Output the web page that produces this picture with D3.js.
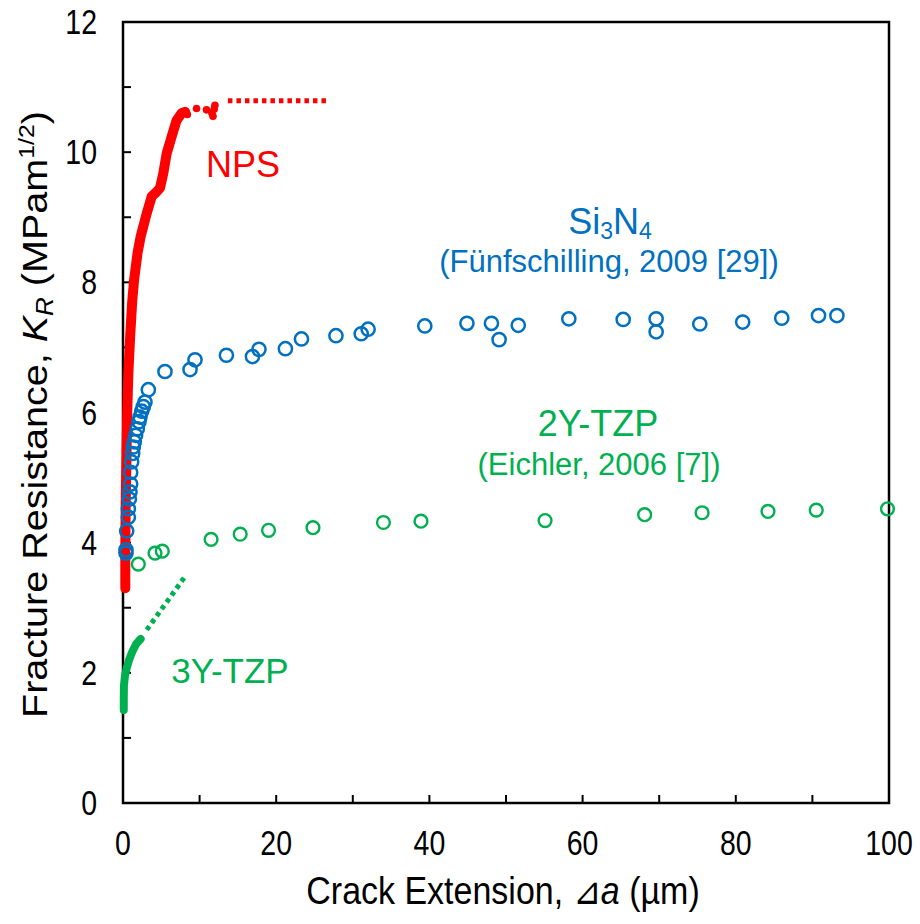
<!DOCTYPE html>
<html lang="en">
<head>
<meta charset="UTF-8">
<title>Fracture Resistance vs Crack Extension</title>
<script src="https://d3js.org/d3.v7.min.js"></script>
<style>
  body { margin: 0; background: #fff; }
  svg text { font-family: "Liberation Sans", Arial, sans-serif; }
</style>
</head>
<body>
<div id="chart"></div>
<script>
// --- data (crack extension in µm, K_R in MPa·m^1/2) ---
const npsCurve = [[0.3,3.3],[0.3,3.9],[0.35,4.6],[0.45,5.3],[0.55,6.0],[0.7,6.6],[0.95,7.2],[1.2,7.7],
  [1.45,8.04],[1.9,8.45],[2.3,8.7],[3.1,9.06],[3.75,9.32],[4.3,9.38],[4.83,9.45],[5.27,9.68],
  [5.7,9.98],[6.35,10.24],[7.0,10.49],[7.66,10.6],[8.1,10.62]];
const npsTail = [[8.4,10.58],[9.6,10.67],[10.9,10.65],[11.6,10.6],[11.75,10.55],[12.0,10.72],[11.9,10.66]];
const npsTrend = [[13.7,10.79],[27.0,10.79]];

const tzp3Curve = [[0.1,1.43],[0.1,1.6],[0.12,1.8],[0.25,1.95],[0.5,2.08],[0.8,2.2],[1.2,2.32],[1.7,2.44],[2.3,2.52]];
const tzp3Trend = [[3.1,2.66],[8.1,3.48]];

const si3n4 = [[0.39,3.84],[0.39,3.89],[0.48,4.18],[0.7,4.39],[0.7,4.52],[0.83,4.67],[0.91,4.78],[1.0,4.9],
  [1.0,5.08],[1.13,5.24],[1.26,5.37],[1.35,5.47],[1.48,5.55],[1.65,5.65],[1.87,5.75],[2.09,5.86],
  [2.22,5.93],[2.44,6.02],[2.65,6.09],[2.87,6.16],[3.31,6.35],[5.48,6.63],[8.75,6.66],[9.4,6.81],
  [13.5,6.88],[16.9,6.86],[17.75,6.97],[21.2,6.98],[23.3,7.13],[27.8,7.18],[31.1,7.21],[32.0,7.28],
  [39.4,7.33],[44.9,7.37],[48.1,7.37],[49.1,7.12],[51.6,7.34],[58.2,7.44],[65.3,7.43],[69.6,7.44],
  [69.6,7.24],[75.3,7.36],[80.9,7.39],[86.0,7.45],[90.8,7.49],[93.2,7.49]];

const tzp2 = [[2.0,3.67],[4.18,3.84],[5.13,3.87],[11.5,4.05],[15.3,4.13],[19.0,4.19],[24.8,4.23],
  [34.0,4.31],[38.9,4.33],[55.1,4.34],[68.1,4.43],[75.6,4.46],[84.2,4.48],[90.5,4.50],[99.8,4.52]];

const xTicks = [0, 10, 20, 30, 40, 50, 60, 70, 80, 90, 100];
const xLabels = [0, 20, 40, 60, 80, 100];
const yTicks = [0, 1, 2, 3, 4, 5, 6, 7, 8, 9, 10, 11, 12];
const yLabels = [0, 2, 4, 6, 8, 10, 12];

const RED = "#FF0000", BLUE = "#0070C0", GREEN = "#00B050";

// --- layout ---
const W = 920, H = 924;
const margin = { top: 22, right: 31, bottom: 121, left: 123 };
const width = W - margin.left - margin.right;
const height = H - margin.top - margin.bottom;

const svg = d3.select("#chart").append("svg")
  .attr("width", W).attr("height", H);

const g = svg.append("g")
  .attr("transform", `translate(${margin.left},${margin.top})`);

const x = d3.scaleLinear().domain([0, 100]).range([0, width]);
const y = d3.scaleLinear().domain([0, 12]).range([height, 0]);

// frame
g.append("rect")
  .attr("width", width).attr("height", height)
  .attr("fill", "none").attr("stroke", "#000").attr("stroke-width", 2.5);

// inward ticks
g.selectAll(".xt").data(xTicks).enter().append("line")
  .attr("x1", d => x(d)).attr("x2", d => x(d))
  .attr("y1", height).attr("y2", height - 8)
  .attr("stroke", "#000").attr("stroke-width", 2);
g.selectAll(".yt").data(yTicks).enter().append("line")
  .attr("x1", 0).attr("x2", 8)
  .attr("y1", d => y(d)).attr("y2", d => y(d))
  .attr("stroke", "#000").attr("stroke-width", 2);

// tick labels (the source figure is slightly stretched vertically)
g.selectAll(".xl").data(xLabels).enter().append("text")
  .attr("transform", d => `translate(${x(d)},${height + 52}) scale(0.95,1.15)`)
  .attr("text-anchor", "middle").attr("font-size", 30).attr("fill", "#000")
  .text(d => d);
g.selectAll(".yl").data(yLabels).enter().append("text")
  .attr("transform", d => `translate(-26,${y(d) + 12}) scale(0.95,1.15)`)
  .attr("text-anchor", "end").attr("font-size", 30).attr("fill", "#000")
  .text(d => d);

// axis titles
const xt = svg.append("text")
  .attr("transform", `translate(${margin.left + width / 2 - 3},904) scale(1,1.12)`)
  .attr("text-anchor", "middle").attr("font-size", 34).attr("fill", "#000");
xt.append("tspan").text("Crack Extension, ⊿");
xt.append("tspan").attr("font-style", "italic").text("a");
xt.append("tspan").text(" (µm)");

const yt = svg.append("text")
  .attr("transform", `translate(47,${margin.top + height / 2 + 2}) rotate(-90) scale(1.13,1)`)
  .attr("text-anchor", "middle").attr("font-size", 35).attr("fill", "#000");
yt.append("tspan").text("Fracture Resistance, ");
yt.append("tspan").attr("font-style", "italic").text("K");
yt.append("tspan").attr("font-style", "italic").attr("font-size", 23).attr("dy", 6).text("R");
yt.append("tspan").attr("dy", -6).text(" (MPam");
yt.append("tspan").attr("font-size", 22).attr("dy", -13).text("1/2");
yt.append("tspan").attr("dy", 13).text(")");

// --- data layers ---
const line = d3.line().x(d => x(d[0])).y(d => y(d[1]));

// NPS measured curve (dense points -> thick band)
g.append("path").datum(npsCurve).attr("d", line)
  .attr("fill", "none").attr("stroke", RED).attr("stroke-width", 10)
  .attr("stroke-linejoin", "round").attr("stroke-linecap", "round");
g.selectAll(".npsTail").data(npsTail).enter().append("circle")
  .attr("cx", d => x(d[0])).attr("cy", d => y(d[1])).attr("r", 3.8).attr("fill", RED);
g.append("path").datum(npsTrend).attr("d", line)
  .attr("fill", "none").attr("stroke", RED).attr("stroke-width", 5)
  .attr("stroke-dasharray", "4.5,4");

// Si3N4 open circles
g.selectAll(".si").data(si3n4).enter().append("circle")
  .attr("cx", d => x(d[0])).attr("cy", d => y(d[1])).attr("r", 6.6)
  .attr("fill", "none").attr("stroke", BLUE).attr("stroke-width", 2.5);

// 2Y-TZP open circles
g.selectAll(".tz2").data(tzp2).enter().append("circle")
  .attr("cx", d => x(d[0])).attr("cy", d => y(d[1])).attr("r", 6.4)
  .attr("fill", "none").attr("stroke", GREEN).attr("stroke-width", 2.4);

// 3Y-TZP curve + dotted extension
g.append("path").datum(tzp3Curve).attr("d", line)
  .attr("fill", "none").attr("stroke", GREEN).attr("stroke-width", 8)
  .attr("stroke-linejoin", "round").attr("stroke-linecap", "round");
g.append("path").datum(tzp3Trend).attr("d", line)
  .attr("fill", "none").attr("stroke", GREEN).attr("stroke-width", 5)
  .attr("stroke-dasharray", "4.5,4");

// --- annotations ---
function label(txt, px, py, size, color) {
  return svg.append("text").attr("x", px).attr("y", py)
    .attr("text-anchor", "middle").attr("font-size", size).attr("fill", color).text(txt);
}
label("NPS", 243, 177, 36, RED);
label("3Y-TZP", 230, 683, 35, GREEN);
label("2Y-TZP", 598, 436, 36, GREEN);
label("(Eichler, 2006 [7])", 599, 475, 31, GREEN);

const si = svg.append("text").attr("x", 610).attr("y", 234)
  .attr("text-anchor", "middle").attr("font-size", 36).attr("fill", BLUE);
si.append("tspan").text("Si");
si.append("tspan").attr("font-size", 23).attr("dy", 5).text("3");
si.append("tspan").attr("dy", -5).text("N");
si.append("tspan").attr("font-size", 23).attr("dy", 5).text("4");
label("(Fünfschilling, 2009 [29])", 609, 272, 31, BLUE);
</script>
</body>
</html>
